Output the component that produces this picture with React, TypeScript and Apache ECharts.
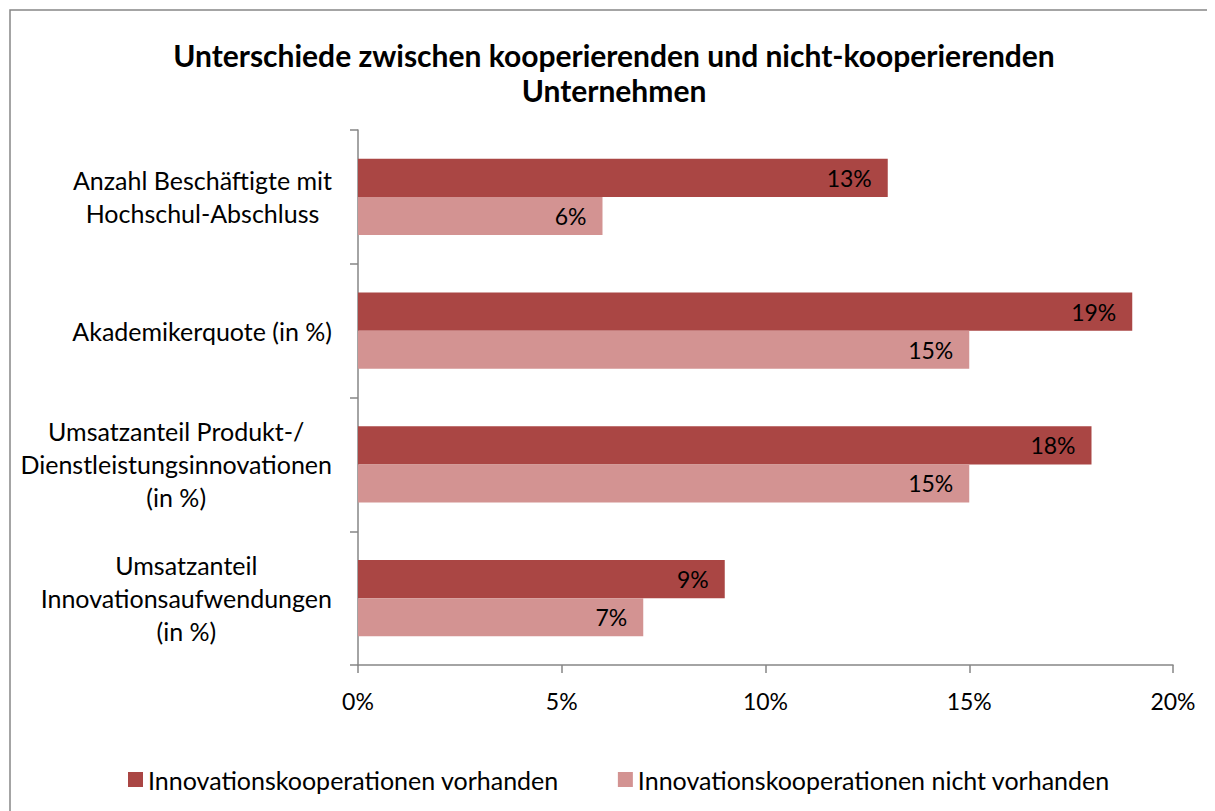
import React, { useEffect, useRef } from "react";
import * as echarts from "echarts";

const categories = [
  "Anzahl Beschäftigte mit\nHochschul-Abschluss",
  "Akademikerquote (in %)",
  "Umsatzanteil Produkt-/\nDienstleistungsinnovationen\n(in %)",
  "Umsatzanteil\nInnovationsaufwendungen\n(in %)",
];
const seriesNames = [
  "Innovationskooperationen vorhanden",
  "Innovationskooperationen nicht vorhanden",
];
const withCoop = [13, 19, 18, 9];
const withoutCoop = [6, 15, 15, 7];
const xTicks = { min: 0, max: 20, interval: 5 };
const titleText = "Unterschiede zwischen kooperierenden und nicht-kooperierenden\nUnternehmen";

const FONT = "Lato, 'Open Sans', sans-serif";
const DARK = "#AA4644";
const LIGHT = "#D39392";
const AXIS = "#868686";

export default function App() {
  const ref = useRef<HTMLDivElement>(null);
  useEffect(() => {
    if (!ref.current) return;
    const chart = echarts.init(ref.current, undefined, { renderer: "svg" });
    const labelStyle = {
      show: true,
      position: "insideRight",
      distance: 16,
      color: "#000",
      fontFamily: FONT,
      fontSize: 23,
      formatter: "{c}%",
    };
    chart.setOption({
      animation: false,
      backgroundColor: "#fff",
      title: {
        text: titleText,
        left: 601,
        top: 24,
        textAlign: "center",
        textStyle: {
          fontFamily: FONT,
          fontSize: 30,
          fontWeight: "bold",
          color: "#000",
          lineHeight: 35,
        },
      },
      graphic: [
        {
          type: "polyline",
          shape: { points: [[2, 1200], [2, 2], [1600, 2]] },
          style: { fill: "none", stroke: AXIS, lineWidth: 1.5 },
          silent: true,
        },
      ],
      legend: {
        left: 115,
        top: 754,
        itemWidth: 15,
        itemHeight: 15,
        itemGap: 59,
        icon: "rect",
        textStyle: { fontFamily: FONT, fontSize: 25, color: "#000" },
        data: seriesNames,
      },
      grid: { left: 350, top: 122, width: 815, height: 535, containLabel: false },
      xAxis: {
        type: "value",
        min: xTicks.min,
        max: xTicks.max,
        interval: xTicks.interval,
        axisLine: { show: true, lineStyle: { color: AXIS, width: 1.5 } },
        axisTick: { show: true, length: 8, lineStyle: { color: AXIS, width: 1.5 } },
        splitLine: { show: false },
        axisLabel: {
          formatter: "{value}%",
          color: "#000",
          fontFamily: FONT,
          fontSize: 23,
          margin: 24,
        },
      },
      yAxis: {
        type: "category",
        inverse: true,
        data: categories,
        axisLine: { show: true, lineStyle: { color: AXIS, width: 1.5 } },
        axisTick: { show: true, length: 8, lineStyle: { color: AXIS, width: 1.5 } },
        axisLabel: {
          margin: 26,
          align: "right",
          formatter: (v: string) =>
            v
              .split("\n")
              .map((l) => `{c|${l}}`)
              .join("\n"),
          rich: {
            c: {
              align: "center",
              color: "#000",
              fontFamily: FONT,
              fontSize: 25,
              lineHeight: 33,
            },
          },
        },
      },
      series: [
        {
          name: seriesNames[0],
          type: "bar",
          data: withCoop,
          barGap: "0%",
          barCategoryGap: "43%",
          itemStyle: { color: DARK },
          label: labelStyle,
        },
        {
          name: seriesNames[1],
          type: "bar",
          data: withoutCoop,
          barGap: "0%",
          barCategoryGap: "43%",
          itemStyle: { color: LIGHT },
          label: labelStyle,
        },
      ],
    });
    return () => chart.dispose();
  }, []);
  return <div ref={ref} style={{ width: 1207, height: 803 }} />;
}
